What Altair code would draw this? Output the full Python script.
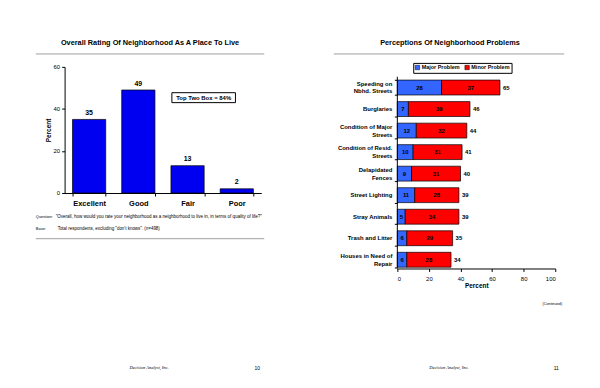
import altair as alt
import pandas as pd

# ---------------- data ----------------
ratings = ["Excellent", "Good", "Fair", "Poor"]
rating_pct = [35, 49, 13, 2]
top_two_label = "Top Two Box = 84%"

problems = [
    "Speeding on\nNbhd. Streets",
    "Burglaries",
    "Condition of Major\nStreets",
    "Condition of Resid.\nStreets",
    "Delapidated\nFences",
    "Street Lighting",
    "Stray Animals",
    "Trash and Litter",
    "Houses in Need of\nRepair",
]
major = [28, 7, 12, 10, 9, 11, 5, 6, 6]
minor = [37, 39, 32, 31, 31, 28, 34, 29, 28]
totals = [65, 46, 44, 41, 40, 39, 39, 35, 34]
problem_types = ["Major Problem", "Minor Problem"]

title_left = "Overall Rating Of Neighborhood As A Place To Live"
title_right = "Perceptions Of Neighborhood Problems"
question_head = "Question:"
question_text = '"Overall, how would you rate your neighborhood as a neighborhood to live in, in terms of quality of life?"'
base_head = "Base:"
base_text = 'Total respondents, excluding "don\'t knows".  (n=498)'
footer_text = "Decision Analyst, Inc."
page_left = "10"
page_right = "11"
continued_text = "(Continued)"

FONT = "Liberation Sans"

# ---------------- helpers ----------------
def txt(s, x, y, size=7, weight="normal", align="center", font=FONT, style="normal", color="black"):
    return alt.Chart(pd.DataFrame({"t": [s]})).mark_text(
        fontSize=size, fontWeight=weight, align=align, baseline="middle",
        font=font, fontStyle=style, color=color
    ).encode(text="t:N", x=alt.value(x), y=alt.value(y))

def hline(x1, x2, y, color="#a0a0a0", w=1.0):
    return alt.Chart(pd.DataFrame({"a": [0]})).mark_rule(color=color, strokeWidth=w).encode(
        x=alt.value(x1), x2=alt.value(x2), y=alt.value(y))

def anchor(x, y):
    return alt.Chart(pd.DataFrame({"a": [0]})).mark_rule(color="white", strokeWidth=1).encode(
        x=alt.value(x), y=alt.value(y), y2=alt.value(y + 1))

# ---------------- left panel ----------------
W1, H1 = 198, 127
df1 = pd.DataFrame({"rating": ratings, "pct": rating_pct})
base1 = alt.Chart(df1)

xenc1 = alt.X("rating:N", sort=ratings,
              scale=alt.Scale(paddingInner=0.325, paddingOuter=0.16),
              axis=alt.Axis(title=None, labelAngle=0, labelFontWeight="bold", labelFontSize=7.5,
                            labelColor="black", labelPadding=3.5, domainColor="black", domainWidth=1,
                            tickColor="black", tickSize=3, tickBand="extent", labelFont=FONT))
yenc1 = alt.Y("pct:Q", scale=alt.Scale(domain=[0, 60], nice=False),
              axis=alt.Axis(values=[0, 20, 40, 60], title="Percent", titleFontSize=6.5,
                            titleFontWeight="bold", titlePadding=2, titleColor="black",
                            labelFontSize=6, labelPadding=2, labelColor="black", tickSize=3,
                            grid=False, domainColor="black", tickColor="black", labelFont=FONT,
                            titleFont=FONT))

bars1 = base1.mark_bar(color="#0000F0", stroke="black", strokeWidth=0.7).encode(x=xenc1, y=yenc1)
vals1 = base1.mark_text(baseline="bottom", dy=-3.5, fontSize=7, fontWeight="bold", font=FONT,
                        color="black").encode(x=xenc1, y=yenc1, text="pct:Q")

box1 = alt.Chart(pd.DataFrame({"a": [0]})).mark_rect(fill="white", stroke="black", strokeWidth=1).encode(
    x=alt.value(108), x2=alt.value(172), y=alt.value(26), y2=alt.value(36))

left = alt.layer(
    bars1, vals1, box1,
    txt(top_two_label, 140, 31, size=6, weight="bold"),
    txt(title_left, 86, -24.5, size=7.4, weight="bold"),
    hline(-29, 201, -13),
    txt(question_head, -29, 151.5, size=4, align="left"),
    txt(question_text, -9, 151.5, size=4.55, align="left"),
    txt(base_head, -29, 163, size=4, align="left"),
    txt(base_text, -7, 163, size=4.5, align="left"),
    hline(-29, 201, 173),
    txt(footer_text, 85, 303, size=4.5, font="Liberation Serif", style="italic"),
    txt(page_left, 194, 303, size=5),
    anchor(-56, -57), anchor(236, 314),
).properties(width=W1, height=H1)

# ---------------- right panel ----------------
# plot origin shares the left panel's top; rows are pushed down by the band scale's outer padding
W2, H2 = 159, 203
rows = []
for p, mj, mn, tot in zip(problems, major, minor, totals):
    rows.append({"problem": p, "type": problem_types[0], "value": mj, "mid": mj / 2, "order": 0})
    rows.append({"problem": p, "type": problem_types[1], "value": mn, "mid": mj + mn / 2, "order": 1})
df2 = pd.DataFrame(rows)
df2t = pd.DataFrame({"problem": problems, "total": totals,
                     "multi": ["\n" in p for p in problems]})

yenc2 = alt.Y("problem:N", sort=problems,
              scale=alt.Scale(paddingInner=0.308, paddingOuter=0.3368, align=0.911),
              axis=alt.Axis(title=None, labels=False, domain=False, tickColor="black",
                            tickSize=3, tickBand="extent"))
xscale2 = alt.Scale(domain=[0, 100], nice=False)
xaxis2 = alt.Axis(values=[0, 20, 40, 60, 80, 100], title="Percent", titleFontSize=6.5,
                  titleFontWeight="bold", titleColor="black", titlePadding=1.5, labelFontSize=6,
                  labelColor="black", labelPadding=4, tickSize=3, grid=False, domainColor="black",
                  tickColor="black", labelFont=FONT, titleFont=FONT, labelOverlap=False)

bars2 = alt.Chart(df2).mark_bar(stroke="black", strokeWidth=0.7).encode(
    x=alt.X("value:Q", stack="zero", scale=xscale2, axis=xaxis2),
    y=yenc2,
    color=alt.Color("type:N", scale=alt.Scale(domain=problem_types, range=["#3366FF", "#FF0000"]),
                    legend=alt.Legend(title=None, orient="none", legendX=16, legendY=-4,
                                      direction="horizontal", strokeColor="black", padding=1.5,
                                      symbolType="square", symbolSize=20, symbolStrokeColor="black",
                                      symbolStrokeWidth=0.5, labelFontSize=5.5, labelFontWeight="bold",
                                      labelColor="black", columnPadding=3, labelOffset=1.5,
                                      labelFont=FONT, fillColor="white")),
    order=alt.Order("order:Q"),
)
seg2 = alt.Chart(df2).mark_text(fontSize=6, fontWeight="bold", font=FONT, color="black").encode(
    x=alt.X("mid:Q", scale=xscale2, axis=xaxis2), y=yenc2, text="value:Q")
tot2 = alt.Chart(df2t).mark_text(fontSize=6, fontWeight="bold", font=FONT, color="black",
                                 align="left", dx=3).encode(
    x=alt.X("total:Q", scale=xscale2, axis=xaxis2), y=yenc2, text="total:Q")

lab_single = alt.Chart(df2t).transform_filter("!datum.multi").mark_text(
    fontSize=6, fontWeight="bold", font=FONT, color="black", align="right", baseline="middle"
).encode(x=alt.value(-5), y=yenc2, text="problem:N")
lab_multi = alt.Chart(df2t).transform_filter("datum.multi").mark_text(
    fontSize=6, fontWeight="bold", font=FONT, color="black", align="right", baseline="middle",
    lineBreak="\n", lineHeight=8, dy=-4
).encode(x=alt.value(-5), y=yenc2, text="problem:N")

ydomain2 = alt.Chart(pd.DataFrame({"a": [0]})).mark_rule(color="black", strokeWidth=1).encode(
    x=alt.value(0), y=alt.value(10), y2=alt.value(H2))

right = alt.layer(
    bars2, seg2, tot2, lab_single, lab_multi, ydomain2,
    txt(title_right, 53, -24.3, size=7.4, weight="bold"),
    hline(-64, 168, -13),
    txt(continued_text, 166, 238.3, size=3.8, align="right"),
    txt(footer_text, 52, 303, size=4.5, font="Liberation Serif", style="italic"),
    txt(page_right, 160, 303, size=5),
    anchor(-97, -57), anchor(195, 314),
).properties(width=W2, height=H2)

chart = alt.hconcat(left, right, spacing=0, bounds="full", padding=0).resolve_legend(
    color="independent").configure(font=FONT, view=alt.ViewConfig(stroke=None))

chart.save("out.html", embed_options={"renderer": "svg", "actions": False})
